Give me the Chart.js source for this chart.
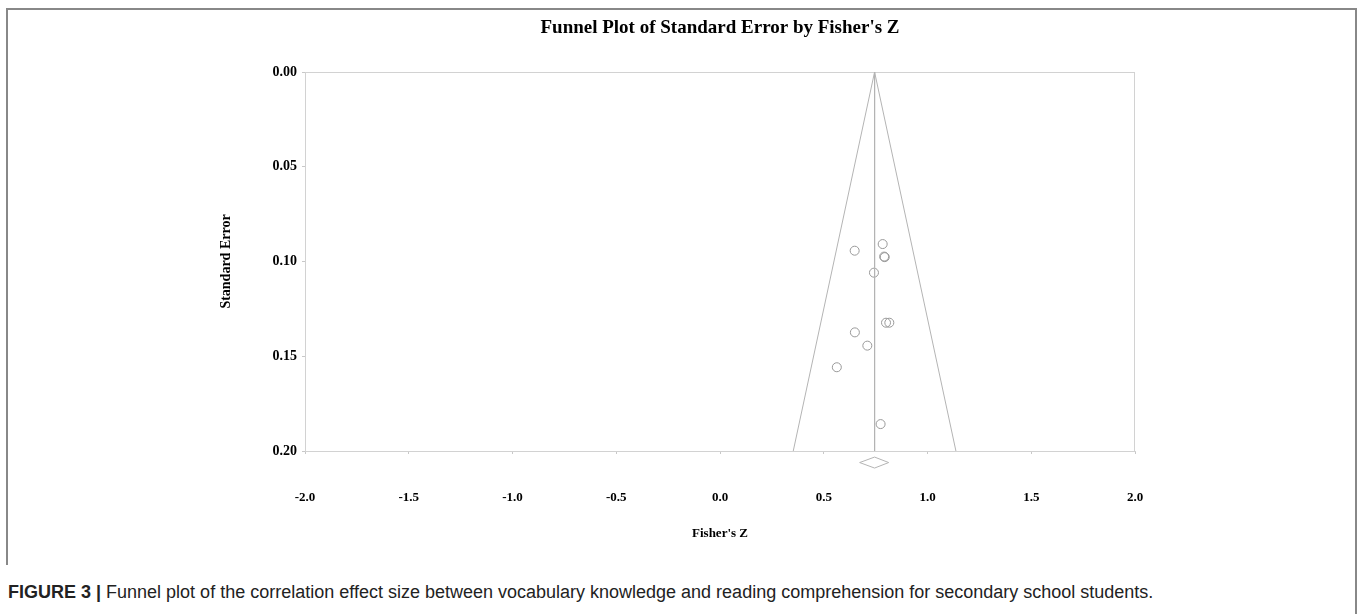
<!DOCTYPE html>
<html><head><meta charset="utf-8">
<script src="https://cdn.jsdelivr.net/npm/chart.js@4"></script>
<style>
html,body{margin:0;padding:0;background:#fff;width:1358px;height:614px;overflow:hidden;position:relative;}
#wrap{position:absolute;left:0;top:0;width:1358px;height:560px;}
.frameTL{position:absolute;left:6px;top:8px;width:1350px;height:557px;border-top:2px solid #888;border-left:2px solid #888;box-sizing:border-box;}
.frameR{position:absolute;left:1355px;top:8px;width:2px;height:606px;background:#888;}
#caption{position:absolute;left:8px;top:582px;font:18px "Liberation Sans",Arial,sans-serif;color:#222;white-space:nowrap;}
#caption b{font-weight:bold;}
</style></head>
<body>
<div class="frameTL"></div><div class="frameR"></div>
<div id="wrap"><canvas id="c" width="1358" height="560"></canvas></div>
<div id="caption"><b>FIGURE 3 |</b> Funnel plot of the correlation effect size between vocabulary knowledge and reading comprehension for secondary school students.</div>
<script>
const chartTitle = "Funnel Plot of Standard Error by Fisher's Z";
const xTitle = "Fisher's Z";
const yTitle = "Standard Error";
// studies
const fisherZ = [0.649, 0.784, 0.791, 0.794, 0.742, 0.800, 0.816, 0.650, 0.710, 0.563, 0.774];
const stdErr  = [0.0943, 0.0908, 0.0974, 0.0977, 0.1059, 0.1323, 0.1323, 0.1374, 0.1444, 0.1558, 0.1858];
// funnel (95% limits) and mean line
const funnelZ  = [0.353, 0.745, 1.137];
const funnelSE = [0.20, 0.00, 0.20];
const meanZ  = [0.745, 0.745];
const meanSE = [0.00, 0.20];
// summary diamond
const diamondZ  = [0.673, 0.745, 0.813, 0.745, 0.673];
const diamondSE = [0.2061, 0.2032, 0.2061, 0.2090, 0.2061];
// ticks
const xTicks = [-2.0, -1.5, -1.0, -0.5, 0.0, 0.5, 1.0, 1.5, 2.0];
const yTicks = [0.00, 0.05, 0.10, 0.15, 0.20];

const pts = (xs, ys) => xs.map((x, i) => ({x: x, y: ys[i]}));
const serif = '"Liberation Serif","Times New Roman",serif';

const frameBox = {
  id: 'frameBox',
  beforeDatasetsDraw(chart) {
    const a = chart.chartArea, ctx = chart.ctx;
    ctx.save();
    ctx.strokeStyle = '#d2d2d2';
    ctx.lineWidth = 1;
    ctx.strokeRect(Math.round(a.left) + 0.5, Math.round(a.top) + 0.5, Math.round(a.right - a.left) - 1, Math.round(a.bottom - a.top));
    ctx.restore();
  },
  afterDraw(chart) {
    const a = chart.chartArea, ctx = chart.ctx;
    ctx.save();
    ctx.font = 'bold 19px ' + serif;
    ctx.fillStyle = '#000';
    ctx.textAlign = 'center';
    ctx.textBaseline = 'middle';
    ctx.fillText(chartTitle, (a.left + a.right) / 2, 28);
    ctx.restore();
  }
};

new Chart(document.getElementById('c'), {
  type: 'scatter',
  data: {
    datasets: [
      { data: pts(funnelZ, funnelSE), showLine: true, borderColor: '#b4b4b4', borderWidth: 1, pointRadius: 0, fill: false, tension: 0 },
      { data: pts(meanZ, meanSE), showLine: true, borderColor: '#b4b4b4', borderWidth: 1, pointRadius: 0, fill: false },
      { data: pts(diamondZ, diamondSE), showLine: true, borderColor: '#b4b4b4', borderWidth: 1, pointRadius: 0, fill: false, clip: false },
      { data: pts(fisherZ, stdErr), showLine: false, pointStyle: 'circle', pointRadius: 4.5, pointBorderWidth: 1,
        pointBorderColor: '#999999', pointBackgroundColor: 'rgba(0,0,0,0)' }
    ]
  },
  options: {
    responsive: false,
    animation: false,
    devicePixelRatio: 1,
    layout: { padding: { left: 0, right: 223, top: 72, bottom: 9 } },
    plugins: { legend: { display: false }, tooltip: { enabled: false }, title: { display: false } },
    scales: {
      x: {
        type: 'linear', min: -2, max: 2,
        afterBuildTicks: s => { s.ticks = xTicks.map(v => ({value: v})); },
        afterFit: s => { s.height = 100; },
        grid: { drawOnChartArea: false, drawTicks: true, tickLength: 3, color: '#c8c8c8' },
        border: { display: true, color: '#d2d2d2' },
        ticks: { padding: 36, color: '#000', font: { family: serif, size: 13, weight: 'bold' },
                 callback: v => Number(v).toFixed(1), maxRotation: 0 },
        title: { display: true, text: xTitle, color: '#000', font: { family: serif, size: 13, weight: 'bold' },
                 padding: { top: 0, bottom: 10 } }
      },
      y: {
        type: 'linear', min: 0, max: 0.2, reverse: true,
        afterBuildTicks: s => { s.ticks = yTicks.map(v => ({value: v})); },
        afterFit: s => { s.width = 305; },
        grid: { drawOnChartArea: false, drawTicks: true, tickLength: 3, color: '#c8c8c8' },
        border: { display: true, color: '#d2d2d2' },
        ticks: { padding: 5, color: '#000', font: { family: serif, size: 14, weight: 'bold' },
                 callback: v => Number(v).toFixed(2) },
        title: { display: true, text: yTitle, color: '#000', font: { family: serif, size: 14, weight: 'bold' },
                 padding: { top: 218, bottom: 0 } }
      }
    }
  },
  plugins: [frameBox]
});
</script>
</body></html>
